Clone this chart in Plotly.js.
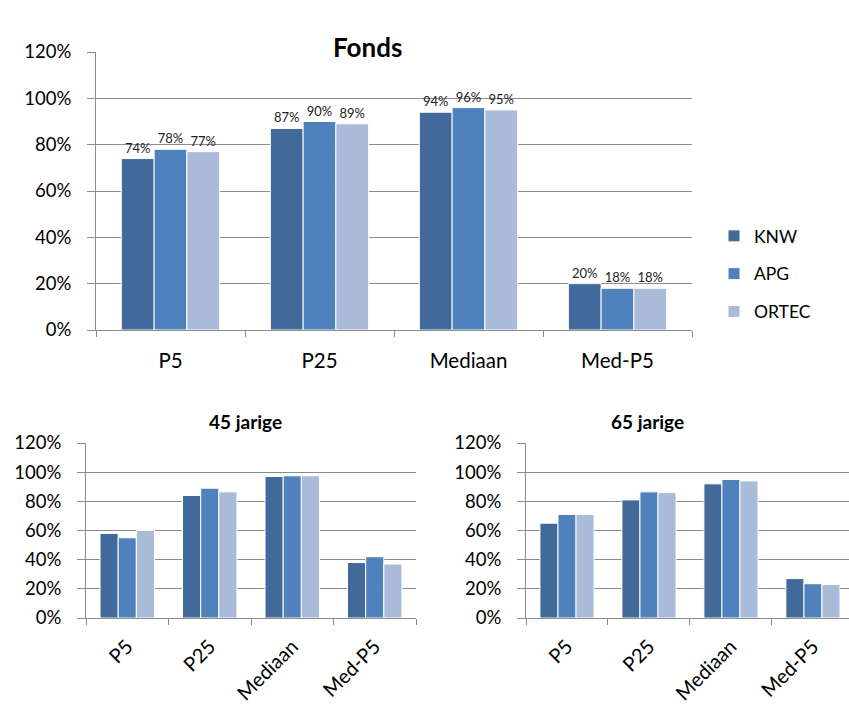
<!DOCTYPE html>
<html>
<head>
<meta charset="utf-8">
<script src="https://cdn.plot.ly/plotly-3.0.1.min.js"></script>
<style>html,body{margin:0;padding:0;background:#fff;}#chart{width:849px;height:707px;}</style>
</head>
<body>
<div id="chart"></div>
<script>
const categories = ["P5", "P25", "Mediaan", "Med-P5"];
const seriesNames = ["KNW", "APG", "ORTEC"];
const colors = ["#416999", "#4F81BD", "#AABBD9"];

// Fonds (top chart), percentages
const fondsKNW = [74, 87, 94, 20];
const fondsAPG = [78, 90, 96, 18];
const fondsORTEC = [77, 89, 95, 18];

// 45 jarige
const j45KNW = [58, 84, 97, 38];
const j45APG = [55, 89, 97.5, 42];
const j45ORTEC = [60, 86.5, 97.5, 37];

// 65 jarige
const j65KNW = [65, 81, 92, 27];
const j65APG = [71, 86.5, 95, 23.5];
const j65ORTEC = [71, 86, 94, 23];

const font = "Lato, 'Open Sans', sans-serif";
const gridCol = "#8C8C8C";

const traces = [];
[fondsKNW, fondsAPG, fondsORTEC].forEach((vals, i) => {
  traces.push({
    type: "bar", x: categories, y: vals, name: seriesNames[i],
    marker: {color: colors[i], line: {color: "#ffffff", width: 1}},
    text: vals.map(v => Math.round(v) + "%"), textposition: "outside",
    textfont: {size: 13, color: "#222", family: font},
    cliponaxis: false, legendgroup: "g" + i, showlegend: true,
    xaxis: "x", yaxis: "y", hoverinfo: "none"
  });
});
[j45KNW, j45APG, j45ORTEC].forEach((vals, i) => {
  traces.push({
    type: "bar", x: categories, y: vals, name: seriesNames[i],
    marker: {color: colors[i], line: {color: "#ffffff", width: 1}},
    legendgroup: "g" + i, showlegend: false,
    xaxis: "x2", yaxis: "y2", hoverinfo: "none"
  });
});
[j65KNW, j65APG, j65ORTEC].forEach((vals, i) => {
  traces.push({
    type: "bar", x: categories, y: vals, name: seriesNames[i],
    marker: {color: colors[i], line: {color: "#ffffff", width: 1}},
    legendgroup: "g" + i, showlegend: false,
    xaxis: "x3", yaxis: "y3", hoverinfo: "none"
  });
});

function xax(domain, anchor, fontSize, angle, standoff, range) {
  const a = {
    domain: domain, anchor: anchor, type: "category",
    showline: true, linecolor: gridCol, linewidth: 1,
    ticks: "outside", tickson: "boundaries", ticklen: 6, tickcolor: gridCol,
    showgrid: false, tickfont: {family: font, size: fontSize, color: "#000"},
    tickangle: angle, ticklabelstandoff: standoff, fixedrange: true
  };
  if (range) a.range = range;
  return a;
}
function yax(domain, anchor, fontSize) {
  return {
    domain: domain, anchor: anchor, range: [0, 120], dtick: 20, ticksuffix: "%",
    showline: true, linecolor: gridCol, linewidth: 1,
    showgrid: true, gridcolor: gridCol, gridwidth: 1,
    ticks: "outside", ticklen: 8, tickcolor: gridCol,
    zeroline: false, tickfont: {family: font, size: fontSize, color: "#000"},
    ticklabelstandoff: 12, fixedrange: true
  };
}

const W = 849, H = 707;
const layout = {
  width: W, height: H,
  margin: {l: 0, r: 0, t: 0, b: 0},
  paper_bgcolor: "#fff", plot_bgcolor: "#fff",
  barmode: "group", bargap: 0.34, bargroupgap: 0,
  showlegend: true,
  legend: {
    x: 714 / W, y: 1 - 218 / H, xanchor: "left", yanchor: "top",
    font: {family: font, size: 17.5, color: "#000"},
    traceorder: "grouped", tracegroupgap: 12, itemwidth: 30,
    bgcolor: "rgba(0,0,0,0)"
  },
  xaxis: xax([96 / W, 692 / W], "y", 20.5, 0, 12),
  yaxis: yax([1 - 330 / H, 1 - 52 / H], "x", 18.5),
  xaxis2: xax([86 / W, 416 / W], "y2", 20, -45, 8),
  yaxis2: yax([1 - 618 / H, 1 - 443 / H], "x2", 18.5),
  xaxis3: xax([526 / W, 1], "y3", 20, -45, 8, [-0.5, 3.44]),
  yaxis3: yax([1 - 618 / H, 1 - 443 / H], "x3", 18.5),
  annotations: [
    {text: "<b>Fonds</b>", x: 367 / W, y: 1 - 29 / H, xref: "paper", yref: "paper",
     showarrow: false, font: {family: font, size: 26, color: "#000"}},
    {text: "<b>45 jarige</b>", x: 207 / W, y: 1 - 422 / H, xref: "paper", yref: "paper",
     showarrow: false, font: {family: font, size: 19, color: "#000"}},
    {text: "<b>65 jarige</b>", x: 686 / W, y: 1 - 422 / H, xref: "paper", yref: "paper",
     showarrow: false, font: {family: font, size: 19, color: "#000"}}
  ]
};

Plotly.newPlot("chart", traces, layout, {staticPlot: true, displayModeBar: false});
</script>
</body>
</html>
